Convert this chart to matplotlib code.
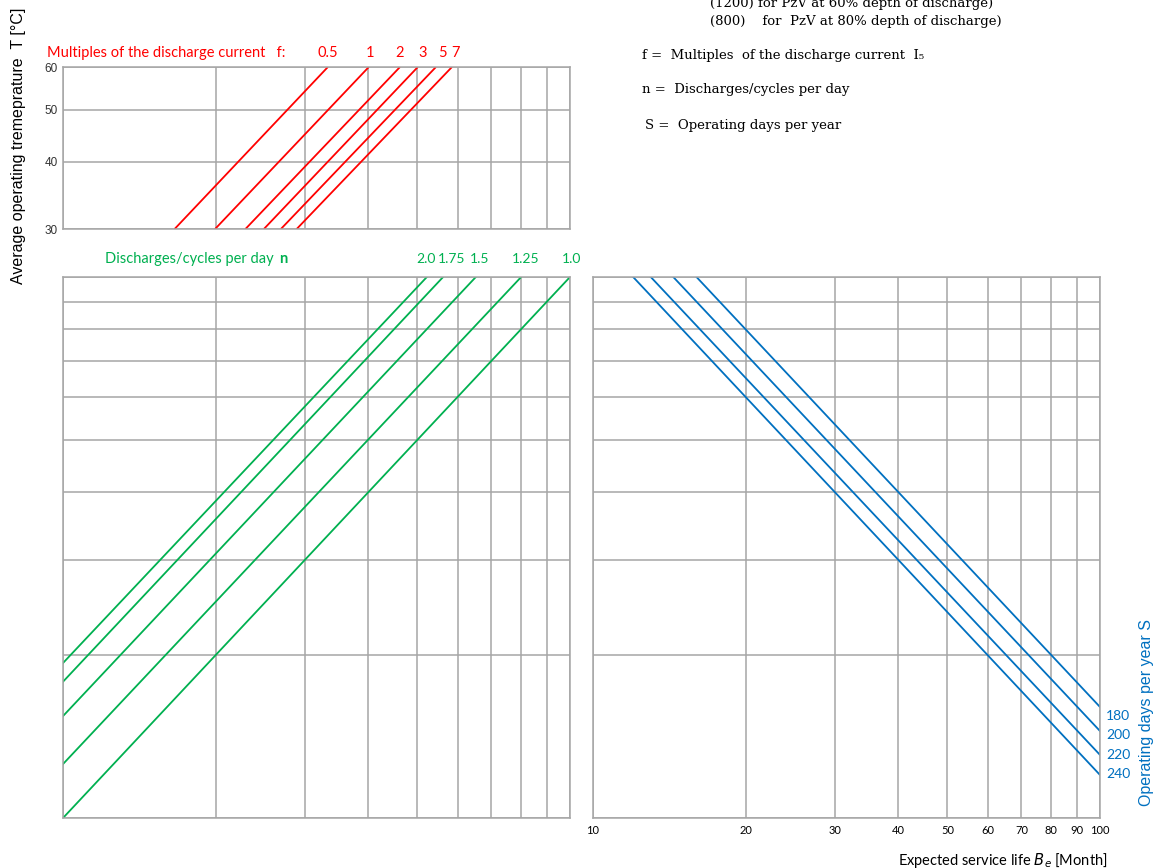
import numpy as np
import matplotlib
matplotlib.use("Agg")
import matplotlib.pyplot as plt
from matplotlib.ticker import NullLocator, NullFormatter

W, H = 1164, 868

# multiples of discharge current f (top panel, T from 30 to 60 degC)
f_labels = ['0.5', '1', '2', '3', '5', '7']
f_x_at_30 = [16.6, 19.95, 22.9, 24.9, 26.9, 28.9]
f_x_at_60 = [33.3, 40.1, 46.2, 50.1, 54.4, 58.5]
temp_ticks = [30, 40, 50, 60]

# discharges/cycles per day n (middle panel)
n_labels = ['2.0', '1.75', '1.5', '1.25', '1.0']
n_y_at_left = [1.934, 1.786, 1.543, 1.258, 1.0]
n_x_at_top = [52.2, 56.2, 65.2, 80.1, 100.0]

# operating days per year S (right panel)
s_labels = ['180', '200', '220', '240']
s_x_at_top = [16.0, 14.4, 13.0, 12.0]
s_y_at_right = [1.604, 1.448, 1.308, 1.201]

life_ticks = [10, 20, 30, 40, 50, 60, 70, 80, 90, 100]
grid_y = [1, 2, 3, 4, 5, 6, 7, 8, 9, 10]

RED = '#FF0000'
GREEN = '#00B050'
BLUE = '#0070C0'
GRID = '#A6A6A6'
SANS = ['Liberation Sans', 'DejaVu Sans']
CAL = ['Lato', 'DejaVu Sans']
SERIF = ['DejaVu Serif']


def fx(x):
    return x / W


def fy(y):
    return 1 - y / H


def box(x0, y0, x1, y1):
    return [fx(x0), fy(y1), (x1 - x0) / W, (y1 - y0) / H]


def style(ax):
    ax.set_xscale('log')
    ax.set_yscale('log')
    ax.xaxis.set_minor_locator(NullLocator())
    ax.yaxis.set_minor_locator(NullLocator())
    ax.xaxis.set_minor_formatter(NullFormatter())
    ax.yaxis.set_minor_formatter(NullFormatter())
    ax.set_xlim(10, 100)
    ax.set_xticks(life_ticks)
    ax.grid(True, color=GRID, linewidth=1.1)
    ax.set_axisbelow(True)
    for s in ax.spines.values():
        s.set_color(GRID)
        s.set_linewidth(1.1)
    ax.tick_params(length=0)


fig = plt.figure(figsize=(W / 100, H / 100), dpi=100)

# top panel: temperature
ax1 = fig.add_axes(box(63, 67, 570, 229))
style(ax1)
ax1.set_ylim(30, 60)
ax1.set_yticks(temp_ticks)
ax1.set_yticklabels([str(t) for t in temp_ticks], fontsize=8.5, family=SANS, color='#333333')
ax1.set_xticklabels([])
ax1.tick_params(axis='y', pad=4)
for lo, hi in zip(f_x_at_30, f_x_at_60):
    ax1.plot([lo, hi], [30, 60], color=RED, lw=1.3, solid_capstyle='butt')

# middle panel: cycles per day
ax2 = fig.add_axes(box(63, 277, 570, 818))
style(ax2)
ax2.set_ylim(1, 10)
ax2.set_yticks(grid_y)
ax2.set_xticklabels([])
ax2.set_yticklabels([])
for y0, x1 in zip(n_y_at_left, n_x_at_top):
    ax2.plot([10, x1], [y0, 10], color=GREEN, lw=1.3)

# right panel: operating days
ax3 = fig.add_axes(box(593, 277, 1100, 818))
style(ax3)
ax3.set_ylim(1, 10)
ax3.set_yticks(grid_y)
ax3.set_yticklabels([])
ax3.set_xticklabels([str(t) for t in life_ticks], fontsize=8, family=CAL)
ax3.tick_params(axis='x', pad=5)
for x0, y1 in zip(s_x_at_top, s_y_at_right):
    ax3.plot([x0, 100], [10, y1], color=BLUE, lw=1.3)

# labels of the top panel
fig.text(fx(47), fy(53), 'Multiples of the discharge current   f:', color=RED,
         fontsize=10.5, family=CAL, ha='left', va='center')
for lab, xc in zip(f_labels, [328, 370, 400, 423, 442, 456]):
    fig.text(fx(xc), fy(53), lab, color=RED, fontsize=10.5, family=CAL, ha='center', va='center')

# labels of the middle panel
fig.text(fx(105), fy(259), 'Discharges/cycles per day', color=GREEN,
         fontsize=10.5, family=CAL, ha='left', va='center')
fig.text(fx(283), fy(259), 'n', color=GREEN, fontsize=10.5, family=CAL,
         fontweight='bold', ha='center', va='center')
for lab, xc in zip(n_labels, [426, 452, 480, 526, 572]):
    fig.text(fx(xc), fy(259), lab, color=GREEN, fontsize=10, family=CAL, ha='center', va='center')

# labels of the right panel
for lab, yc in zip(s_labels, [716, 735, 755, 774]):
    fig.text(fx(1106), fy(yc), lab, color=BLUE, fontsize=10, family=CAL, ha='left', va='center')
fig.text(fx(1147), fy(712), 'Operating days per year S', color=BLUE, fontsize=11.5,
         family=SANS, rotation=90, ha='center', va='center')
fig.text(fx(1108), fy(860), 'Expected service life $B_e$ [Month]', fontsize=10.5,
         family=CAL, ha='right', va='center')

fig.text(fx(19), fy(146), 'Average operating tremeprature  T [\u00b0C]', fontsize=11.5,
         family=SANS, rotation=90, ha='center', va='center')

# legend text top right
fig.text(fx(710), fy(4), '(1200) for PzV at 60% depth of discharge)', fontsize=9.5,
         family=SERIF, ha='left', va='center')
fig.text(fx(710), fy(21), '(800)    for  PzV at 80% depth of discharge)', fontsize=9.5,
         family=SERIF, ha='left', va='center')
fig.text(fx(642), fy(55), 'f =  Multiples  of the discharge current  I\u2085', fontsize=9.5,
         family=SERIF, ha='left', va='center')
fig.text(fx(642), fy(90), 'n =  Discharges/cycles per day', fontsize=9.5,
         family=SERIF, ha='left', va='center')
fig.text(fx(645), fy(125), 'S =  Operating days per year', fontsize=9.5,
         family=SERIF, ha='left', va='center')

fig.savefig('out.png', dpi=100)
